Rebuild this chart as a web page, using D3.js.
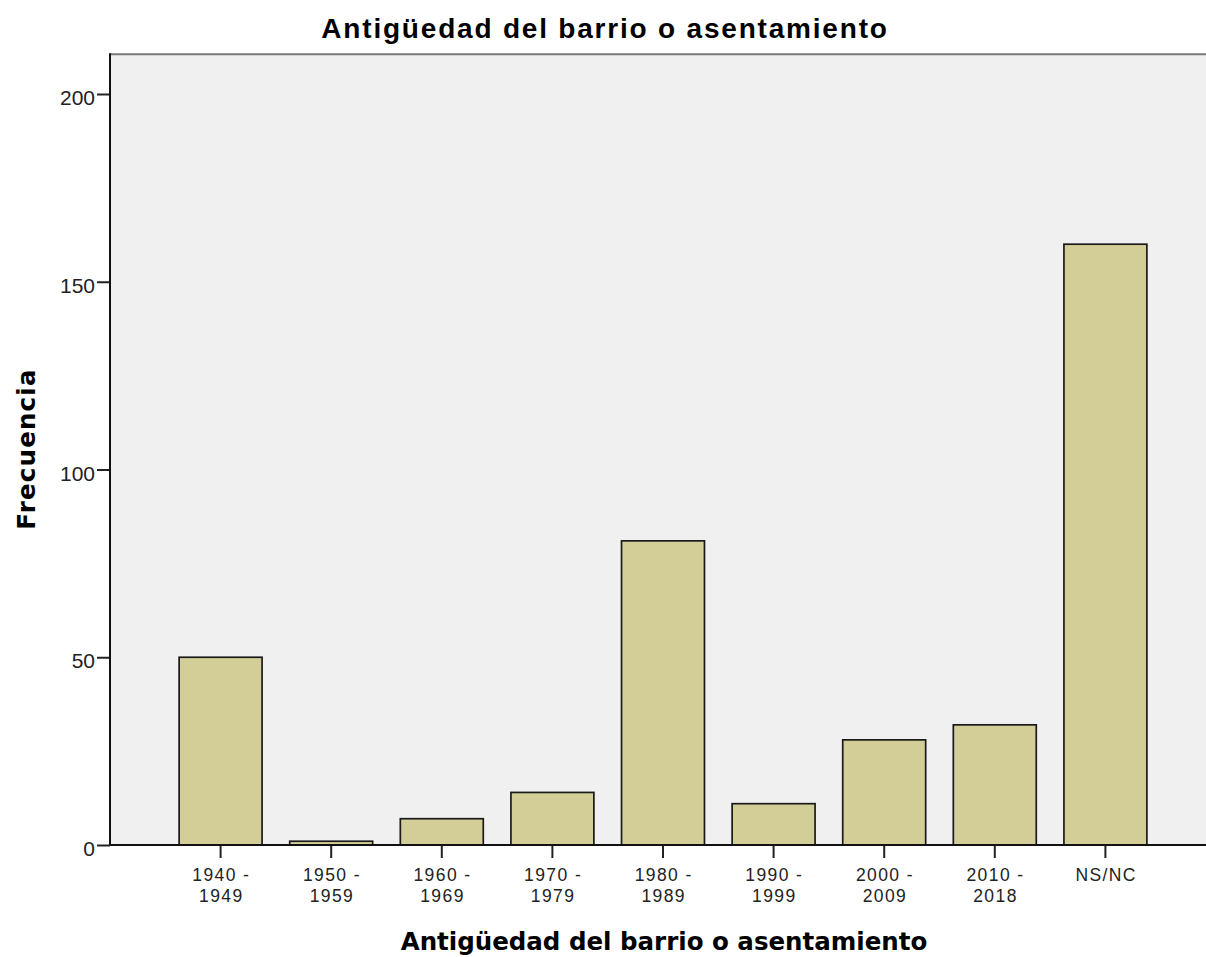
<!DOCTYPE html>
<html><head><meta charset="utf-8">
<script src="https://cdn.jsdelivr.net/npm/d3@7/dist/d3.min.js"></script>
<style>body{margin:0;background:#fff}svg{display:block}</style>
</head><body>
<svg id="c" width="1206" height="957"></svg>
<script>
const categories = ["1940 - 1949","1950 - 1959","1960 - 1969","1970 - 1979","1980 - 1989","1990 - 1999","2000 - 2009","2010 - 2018","NS/NC"];
const frecuencia = [50, 1, 7, 14, 81, 11, 28, 32, 160];
const yTicks = [0, 50, 100, 150, 200];
const title = "Antigüedad del barrio o asentamiento";
const xTitle = "Antigüedad del barrio o asentamiento";
const yTitle = "Frecuencia";

const svg = d3.select("#c");
const plotLeft = 110, plotRight = 1216, plotBottom = 845;
const y = d3.scaleLinear().domain([0, 200]).range([plotBottom, 94]);
const plotTop = y(210.6);
const step = (plotRight - plotLeft) / 10;
const x = d3.scaleBand().domain(categories)
  .range([plotLeft + step * 0.5, plotLeft + step * 9.5])
  .paddingInner(0.25).paddingOuter(0.125);

svg.append("rect").attr("x", plotLeft).attr("y", plotTop).attr("width", plotRight - plotLeft).attr("height", plotBottom - plotTop).attr("fill", "#f0f0f0");
svg.append("line").attr("x1", plotLeft).attr("x2", plotRight).attr("y1", plotTop).attr("y2", plotTop).attr("stroke", "#777").attr("stroke-width", 2);

svg.selectAll("rect.bar").data(frecuencia).join("rect").attr("class", "bar")
  .attr("x", (d, i) => x(categories[i]))
  .attr("width", x.bandwidth())
  .attr("y", d => y(d))
  .attr("height", d => plotBottom - y(d))
  .attr("fill", "#d3ce97").attr("stroke", "#1a1a1a").attr("stroke-width", 1.7);

const yAxis = svg.append("g").attr("transform", `translate(${plotLeft},0)`)
  .call(d3.axisLeft(y).tickValues(yTicks).tickSize(13).tickPadding(2).tickSizeOuter(0));
yAxis.select(".domain").remove();
yAxis.selectAll(".tick line").attr("stroke", "#222").attr("stroke-width", 2);
yAxis.selectAll(".tick text").attr("font-family", "Liberation Sans, Arial, sans-serif").attr("font-size", 21).attr("fill", "#222").attr("dy", "0.5em");
svg.append("line").attr("x1", plotLeft).attr("x2", plotLeft).attr("y1", plotTop - 1).attr("y2", plotBottom).attr("stroke", "#111").attr("stroke-width", 2);

const xAxis = svg.append("g").attr("transform", `translate(0,${plotBottom})`)
  .call(d3.axisBottom(x).tickSize(13).tickSizeOuter(0).tickFormat(""));
xAxis.select(".domain").remove();
xAxis.selectAll(".tick line").attr("stroke", "#222").attr("stroke-width", 2);
svg.append("line").attr("x1", plotLeft).attr("x2", plotRight).attr("y1", plotBottom).attr("y2", plotBottom).attr("stroke", "#111").attr("stroke-width", 2);

xAxis.selectAll(".tick").each(function(d) {
  const parts = d.includes(" - ") ? [d.split(" - ")[0] + " -", d.split(" - ")[1]] : [d];
  const g = d3.select(this);
  parts.forEach((p, i) => g.append("text").attr("fill", "#222")
    .attr("font-family", "Liberation Sans, Arial, sans-serif").attr("font-size", 17.5)
    .attr("letter-spacing", 1.4).attr("text-anchor", "middle")
    .attr("x", 0.7).attr("y", 36 + i * 20.5).text(p));
});

svg.append("text").attr("x", 605).attr("y", 38).attr("text-anchor", "middle")
  .attr("font-family", "Liberation Sans, Arial, sans-serif").attr("font-weight", "bold").attr("font-size", 28)
  .attr("letter-spacing", 1.8).attr("fill", "#000").text(title);
svg.append("text").attr("x", 664).attr("y", 950).attr("text-anchor", "middle")
  .attr("font-family", "DejaVu Sans, Verdana, sans-serif").attr("font-weight", "bold").attr("font-size", 24.5).attr("fill", "#000").text(xTitle);
svg.append("text").attr("transform", "translate(35,449) rotate(-90)").attr("text-anchor", "middle")
  .attr("font-family", "DejaVu Sans, Verdana, sans-serif").attr("font-weight", "bold").attr("font-size", 24.5)
  .attr("letter-spacing", 1.2).attr("fill", "#000").text(yTitle);
</script>
</body></html>
